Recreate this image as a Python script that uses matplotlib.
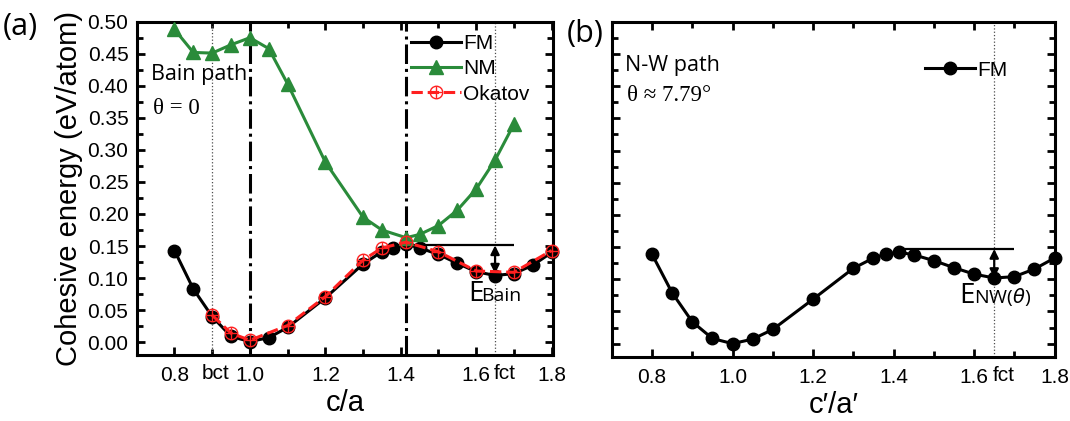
import numpy as np
import matplotlib
matplotlib.use('Agg')
import matplotlib.pyplot as plt
from matplotlib.ticker import MultipleLocator

plt.rcParams['font.family'] = ['Liberation Sans', 'DejaVu Sans']

# ---- data ----
# (a) Bain path
fm_a_x = [0.8, 0.85, 0.9, 0.95, 1.0, 1.05, 1.1, 1.2, 1.3, 1.35, 1.38, 1.414,
          1.45, 1.5, 1.55, 1.6, 1.65, 1.7, 1.75, 1.8]
fm_a_y = [0.143, 0.083, 0.040, 0.009, 0.001, 0.007, 0.023, 0.069, 0.122, 0.141,
          0.147, 0.153, 0.147, 0.137, 0.123, 0.110, 0.104, 0.107, 0.120, 0.140]

nm_x = [0.8, 0.85, 0.9, 0.95, 1.0, 1.05, 1.1, 1.2, 1.3, 1.35, 1.414, 1.45,
        1.5, 1.55, 1.6, 1.65, 1.7]
nm_y = [0.488, 0.452, 0.451, 0.464, 0.475, 0.458, 0.403, 0.281, 0.195, 0.175,
        0.163, 0.168, 0.182, 0.206, 0.239, 0.284, 0.340]

okatov_x = [0.9, 0.95, 1.0, 1.1, 1.2, 1.3, 1.35, 1.414, 1.5, 1.6, 1.7, 1.8]
okatov_y = [0.042, 0.014, 0.003, 0.026, 0.071, 0.128, 0.147, 0.156, 0.141,
            0.111, 0.109, 0.143]

# (b) N-W path
fm_b_x = [0.8, 0.85, 0.9, 0.95, 1.0, 1.05, 1.1, 1.2, 1.3, 1.35, 1.38, 1.414,
          1.45, 1.5, 1.55, 1.6, 1.65, 1.7, 1.75, 1.8]
fm_b_y = [0.139, 0.079, 0.034, 0.008, 0.000, 0.007, 0.022, 0.069, 0.117, 0.133,
          0.139, 0.142, 0.138, 0.129, 0.118, 0.108, 0.102, 0.104, 0.116, 0.133]

bct_x = 0.9
fct_x = 1.65
barrier_a, fct_a = 0.151, 0.107
barrier_b, fct_b = 0.147, 0.102

fig = plt.figure(figsize=(10.7, 4.21), dpi=100)
ax_a = fig.add_axes([0.1278, 0.1568, 0.3888, 0.7917])
ax_b = fig.add_axes([0.5717, 0.1532, 0.4143, 0.7950])


def style_axes(ax, xmax):
    ax.set_xlim(0.7, xmax)
    ax.set_ylim(-0.02, 0.50)
    ax.xaxis.set_major_locator(MultipleLocator(0.2))
    ax.xaxis.set_minor_locator(MultipleLocator(0.1))
    ax.yaxis.set_major_locator(MultipleLocator(0.05))
    ax.yaxis.set_minor_locator(MultipleLocator(0.025))
    ax.tick_params(which='both', direction='in', top=True, right=True, width=2)
    ax.tick_params(which='major', length=6, labelsize=15)
    ax.tick_params(which='minor', length=4)
    ax.tick_params(axis='x', pad=8)
    ax.tick_params(axis='y', pad=6)
    for s in ax.spines.values():
        s.set_linewidth(2.2)


# ---------------- panel (a) ----------------
ax = ax_a
style_axes(ax, 1.803)
ax.yaxis.set_major_formatter(plt.FormatStrFormatter('%.2f'))
ax.xaxis.set_major_formatter(plt.FormatStrFormatter('%.1f'))

ax.axvline(bct_x, color='0.3', ls=':', lw=0.9)
ax.axvline(fct_x, color='0.3', ls=':', lw=0.9)
ax.axvline(1.0, color='black', ls='-.', lw=2.2)
ax.axvline(np.sqrt(2), color='black', ls='-.', lw=2.2)

l_fm, = ax.plot(fm_a_x, fm_a_y, '-o', color='black', lw=2.2, ms=9,
                label='FM', clip_on=False, zorder=3)
l_nm, = ax.plot(nm_x, nm_y, '-^', color='#2a8b3a', lw=2.2, ms=9.5,
                label='NM', zorder=3)
l_ok, = ax.plot(okatov_x, okatov_y, '--o', color='#ff2020', lw=2.2, ms=9,
                mfc='none', mew=1.0, zorder=4, clip_on=False)
l_ok2, = ax.plot(okatov_x, okatov_y, '+', color='#ff2020', ms=9, mew=1.0,
                 zorder=4, clip_on=False)

ax.legend([l_fm, l_nm, (l_ok, l_ok2)], ['FM', 'NM', 'Okatov'],
          loc='upper left', bbox_to_anchor=(0.63, 1.0), frameon=False,
          fontsize=15, handlelength=2.4, handletextpad=0.1,
          labelspacing=0.3, borderaxespad=0.2)

ax.hlines(barrier_a, np.sqrt(2), 1.70, color='black', lw=1.6)
ax.annotate('', xy=(fct_x, barrier_a), xytext=(fct_x, fct_a),
            arrowprops=dict(arrowstyle='<|-|>', color='black', lw=1.6,
                            mutation_scale=13, shrinkA=0, shrinkB=0))
ax.text(1.578, 0.065, 'E', fontsize=20, family='Open Sans', va='baseline')
ax.text(1.614, 0.065, 'Bain', fontsize=14, family='Open Sans', va='baseline')

ax.text(0.737, 0.418, 'Bain path', fontsize=15.5, family='Open Sans',
        va='center')
ax.text(0.742, 0.364, 'θ = 0', fontsize=16.5, family='Liberation Serif',
        va='center')

tr = ax.get_xaxis_transform()
ax.text(bct_x + 0.01, -0.027, 'bct', transform=tr, ha='center', va='top',
        fontsize=15)
ax.text(fct_x - 0.003, -0.027, 'fct', transform=tr, ha='left', va='top',
        fontsize=15)

ax.set_xlabel('c/a', fontsize=21, labelpad=3)
ax.set_ylabel('Cohesive energy (eV/atom)', fontsize=21, labelpad=3)
fig.text(0.003, 0.935, '(a)', fontsize=22, family='Open Sans', va='center')

# ---------------- panel (b) ----------------
ax = ax_b
style_axes(ax, 1.801)
ax.xaxis.set_major_formatter(plt.FormatStrFormatter('%.1f'))
ax.tick_params(axis='y', labelleft=False)

ax.axvline(fct_x, color='0.3', ls=':', lw=0.9)
l_fmb, = ax.plot(fm_b_x, fm_b_y, '-o', color='black', lw=2.2, ms=9,
                 label='FM', clip_on=False, zorder=3)
ax.legend(handles=[l_fmb], loc='upper left', bbox_to_anchor=(0.665, 0.94),
          frameon=False, fontsize=15, handlelength=2.4, handletextpad=0.1)

ax.hlines(barrier_b, 1.41, 1.70, color='black', lw=1.6)
ax.annotate('', xy=(fct_x, barrier_b), xytext=(fct_x, fct_b),
            arrowprops=dict(arrowstyle='<|-|>', color='black', lw=1.6,
                            mutation_scale=13, shrinkA=0, shrinkB=0))
ax.text(1.563, 0.063, 'E', fontsize=20, family='Open Sans', va='baseline')
ax.text(1.599, 0.063, r'NW($\theta$)', fontsize=14, family='Open Sans',
        va='baseline')

ax.text(0.733, 0.432, 'N-W path', fontsize=15.5, family='Open Sans',
        va='center')
ax.text(0.738, 0.385, 'θ ≈ 7.79°', fontsize=16.5, family='Liberation Serif',
        va='center')

tr = ax.get_xaxis_transform()
ax.text(fct_x - 0.003, -0.027, 'fct', transform=tr, ha='left', va='top',
        fontsize=15)

ax.set_xlabel('c′/a′', fontsize=21, labelpad=3)
fig.text(0.530, 0.92, '(b)', fontsize=22, family='Open Sans', va='center')

fig.savefig('out.png', dpi=100)
